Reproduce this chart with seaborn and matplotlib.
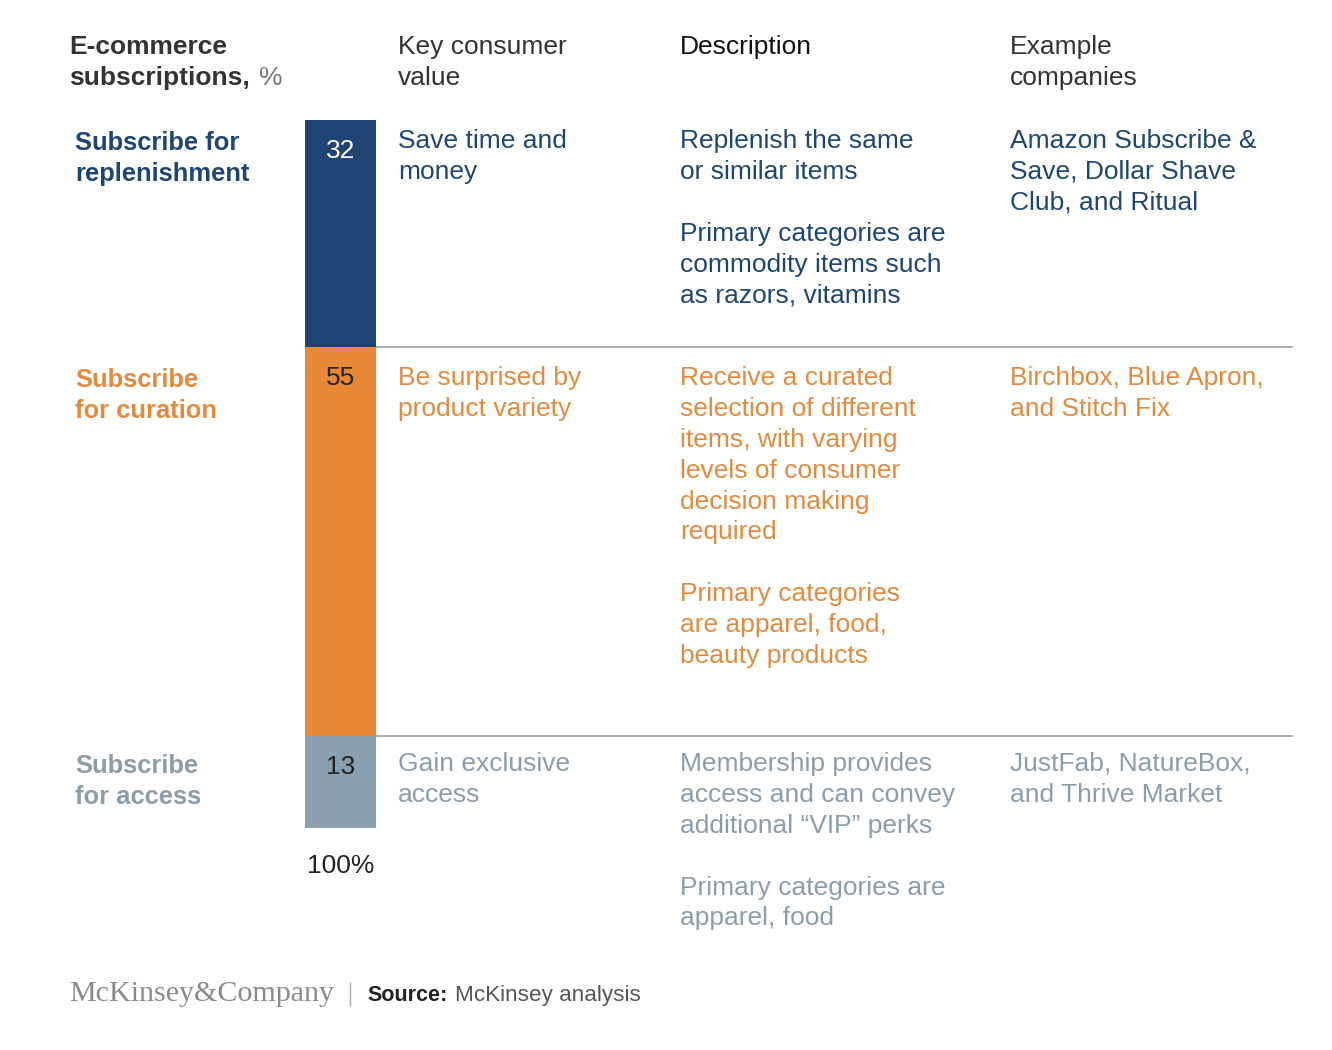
import matplotlib
matplotlib.use("Agg")
import matplotlib.pyplot as plt
import seaborn as sns

# data
segments = ["Subscribe for\nreplenishment", "Subscribe\nfor curation", "Subscribe\nfor access"]
shares = [32, 55, 13]
key_values = ["Save time and\nmoney", "Be surprised by\nproduct variety", "Gain exclusive\naccess"]
descriptions = [
    "Replenish the same\nor similar items\n\nPrimary categories are\ncommodity items such\nas razors, vitamins",
    "Receive a curated\nselection of different\nitems, with varying\nlevels of consumer\ndecision making\nrequired\n\nPrimary categories\nare apparel, food,\nbeauty products",
    "Membership provides\naccess and can convey\nadditional \u201cVIP\u201d perks\n\nPrimary categories are\napparel, food",
]
examples = [
    "Amazon Subscribe &\nSave, Dollar Shave\nClub, and Ritual",
    "Birchbox, Blue Apron,\nand Stitch Fix",
    "JustFab, NatureBox,\nand Thrive Market",
]
headers = ["Key consumer\nvalue", "Description", "Example\ncompanies"]

bar_colors = ["#1F4372", "#E8893A", "#8BA0B0"]
text_colors = ["#1F4672", "#E38A3E", "#8C9DAA"]
num_colors = ["white", "#222222", "#222222"]

sns.set_style("white")
plt.rcParams["font.family"] = ["Liberation Sans", "DejaVu Sans"]

W, H = 1332, 1050
fig = plt.figure(figsize=(W / 100, H / 100), dpi=100)

# overlay axes in pixel coordinates for the table text
ov = fig.add_axes([0, 0, 1, 1])
ov.set_xlim(0, W)
ov.set_ylim(H, 0)
ov.axis("off")

FS = 19
LS = 30.9


def lines(x, y, txt, color, weight="normal", size=FS):
    for i, ln in enumerate(txt.split("\n")):
        if ln:
            ov.text(x, y + i * LS, ln, color=color, fontsize=size,
                    fontweight=weight, va="baseline", ha="left")


# headers
lines(69, 54, "E-commerce\nsubscriptions,", "#333333", weight="bold", size=19)
ov.text(259, 54 + LS, "%", color="#777777", fontsize=FS, va="baseline")
head_x = [398, 680, 1010]
head_c = ["#333333", "#111111", "#333333"]
for x, h, c in zip(head_x, headers, head_c):
    lines(x, 54, h, c)

# rows
row_base = [148, 385, 771]
label_base = [150, 387, 773]
for i in range(3):
    lines(75, label_base[i], segments[i], text_colors[i], weight="bold", size=18.4)
    lines(398, row_base[i], key_values[i], text_colors[i])
    lines(680, row_base[i], descriptions[i], text_colors[i])
    lines(1010, row_base[i], examples[i], text_colors[i])

# separators
ov.hlines([347, 736], 376, 1293, color="#AAAAAA", lw=1.4)

# stacked bar
bx0, bx1, by0, by1 = 305, 376, 120, 828
bar_ax = fig.add_axes([bx0 / W, 1 - by1 / H, (bx1 - bx0) / W, (by1 - by0) / H])
cum = [sum(shares[: i + 1]) for i in range(3)]
for i in reversed(range(3)):
    sns.barplot(x=["all"], y=[cum[i]], color=bar_colors[i], width=1,
                saturation=1, ax=bar_ax, linewidth=0)
bar_ax.set_ylim(100, 0)
bar_ax.set_xlim(-0.5, 0.5)
bar_ax.axis("off")
starts = [0] + cum[:-1]
for i in range(3):
    bar_ax.annotate(str(shares[i]), xy=(0, starts[i]), xytext=(0, -38),
                    textcoords="offset pixels", ha="center", va="baseline",
                    fontsize=FS, color=num_colors[i])
ov.text((bx0 + bx1) / 2, 873, "100%", ha="center", va="baseline",
        fontsize=FS, color="#222222")

# footer
ov.text(69, 1001, "McKinsey&Company", family=["Liberation Serif", "DejaVu Serif"],
        fontsize=21.6, color="#8A8A8A", va="baseline")
ov.vlines(350, 982, 1006, color="#AAAAAA", lw=1)
ov.text(367, 1001, "Source:", fontsize=15.5, fontweight="bold", color="#222222",
        va="baseline")
ov.text(455, 1001, "McKinsey analysis", fontsize=16.2, color="#555555",
        va="baseline")

fig.savefig("out.png", dpi=100)
